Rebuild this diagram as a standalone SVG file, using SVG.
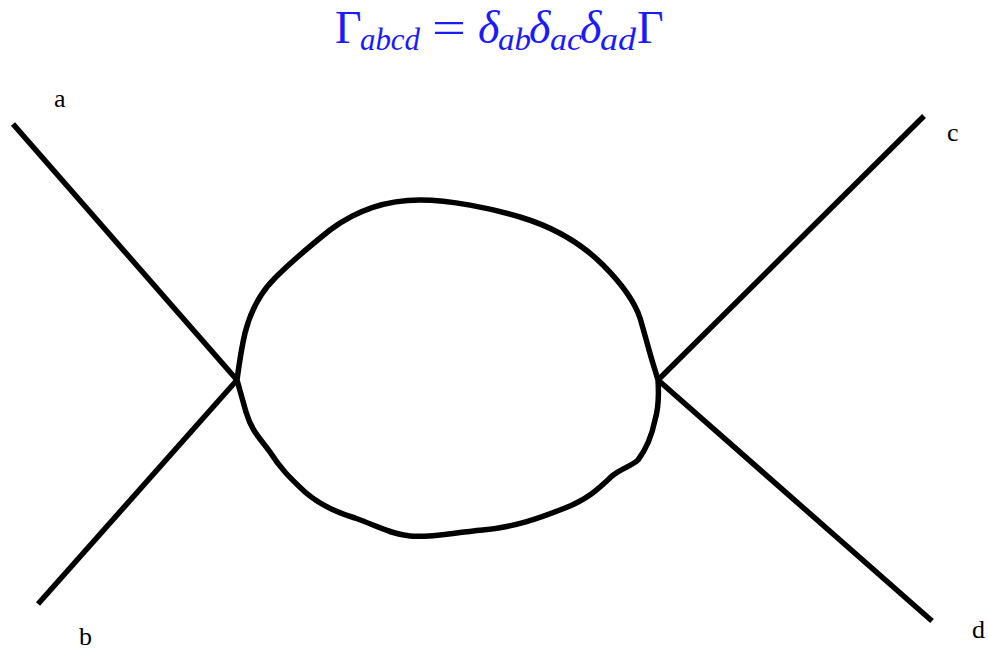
<svg xmlns="http://www.w3.org/2000/svg" width="988" height="650" viewBox="0 0 988 650">
<style>
.ln{fill:none;stroke:#000;stroke-width:5.5;stroke-linecap:butt;stroke-linejoin:round}
.lbl{font-family:"Liberation Serif",serif;font-size:26px;fill:#000}
.eq{font-family:"Liberation Serif",serif;fill:#1a1aff;font-size:46px}
.sub{font-family:"Liberation Serif",serif;fill:#1a1aff;font-size:32px;font-style:italic}
.it{font-style:italic}
</style>
<rect width="988" height="650" fill="#fff"/>
<g id="title">
<text class="eq" x="335" y="43">Γ</text>
<text class="sub" x="360" y="50" textLength="60" lengthAdjust="spacingAndGlyphs">abcd</text>
<text class="eq" x="432" y="43" textLength="34" lengthAdjust="spacingAndGlyphs">=</text>
<text class="eq it" x="478" y="43">δ</text>
<text class="sub" x="498" y="50" textLength="33" lengthAdjust="spacingAndGlyphs">ab</text>
<text class="eq it" x="529" y="43">δ</text>
<text class="sub" x="550" y="50" textLength="32" lengthAdjust="spacingAndGlyphs">ac</text>
<text class="eq it" x="580" y="43">δ</text>
<text class="sub" x="600" y="50" textLength="36" lengthAdjust="spacingAndGlyphs">ad</text>
<text class="eq" x="637" y="43">Γ</text>
</g>
<g id="connectors">
<line class="ln" x1="13" y1="124" x2="237" y2="380"/>
<line class="ln" x1="38" y1="604" x2="237" y2="380"/>
<line class="ln" x1="924" y1="116" x2="658" y2="380"/>
<line class="ln" x1="932" y1="621" x2="658" y2="380"/>
</g>
<g id="loop">
<path class="ln" d="M237,380 C239,365 241,350 245,333 C250,313 260,293 275,278 C290,263 305,250 330,230 C350,215 380,200 420,200 C450,200 490,208 520,217 C550,226 580,242 603,265 C622,284 634,300 640,318 C646,338 650,355 655,370 L658,380 C659,395 658,410 655,420 C652,435 647,448 638,460 C630,467 622,468 612,476 C600,487 590,498 565,508 C540,518 515,527 483,530 C450,533 430,538 410,536 C390,534 375,525 355,518 C335,512 320,505 305,492 C290,478 280,468 270,452 C260,438 252,432 246,412 Z"/>
</g>
<g id="label-a"><text class="lbl" x="54" y="107">a</text></g>
<g id="label-b"><text class="lbl" x="79" y="645">b</text></g>
<g id="label-c"><text class="lbl" x="947" y="141">c</text></g>
<g id="label-d"><text class="lbl" x="972" y="638">d</text></g>
</svg>
